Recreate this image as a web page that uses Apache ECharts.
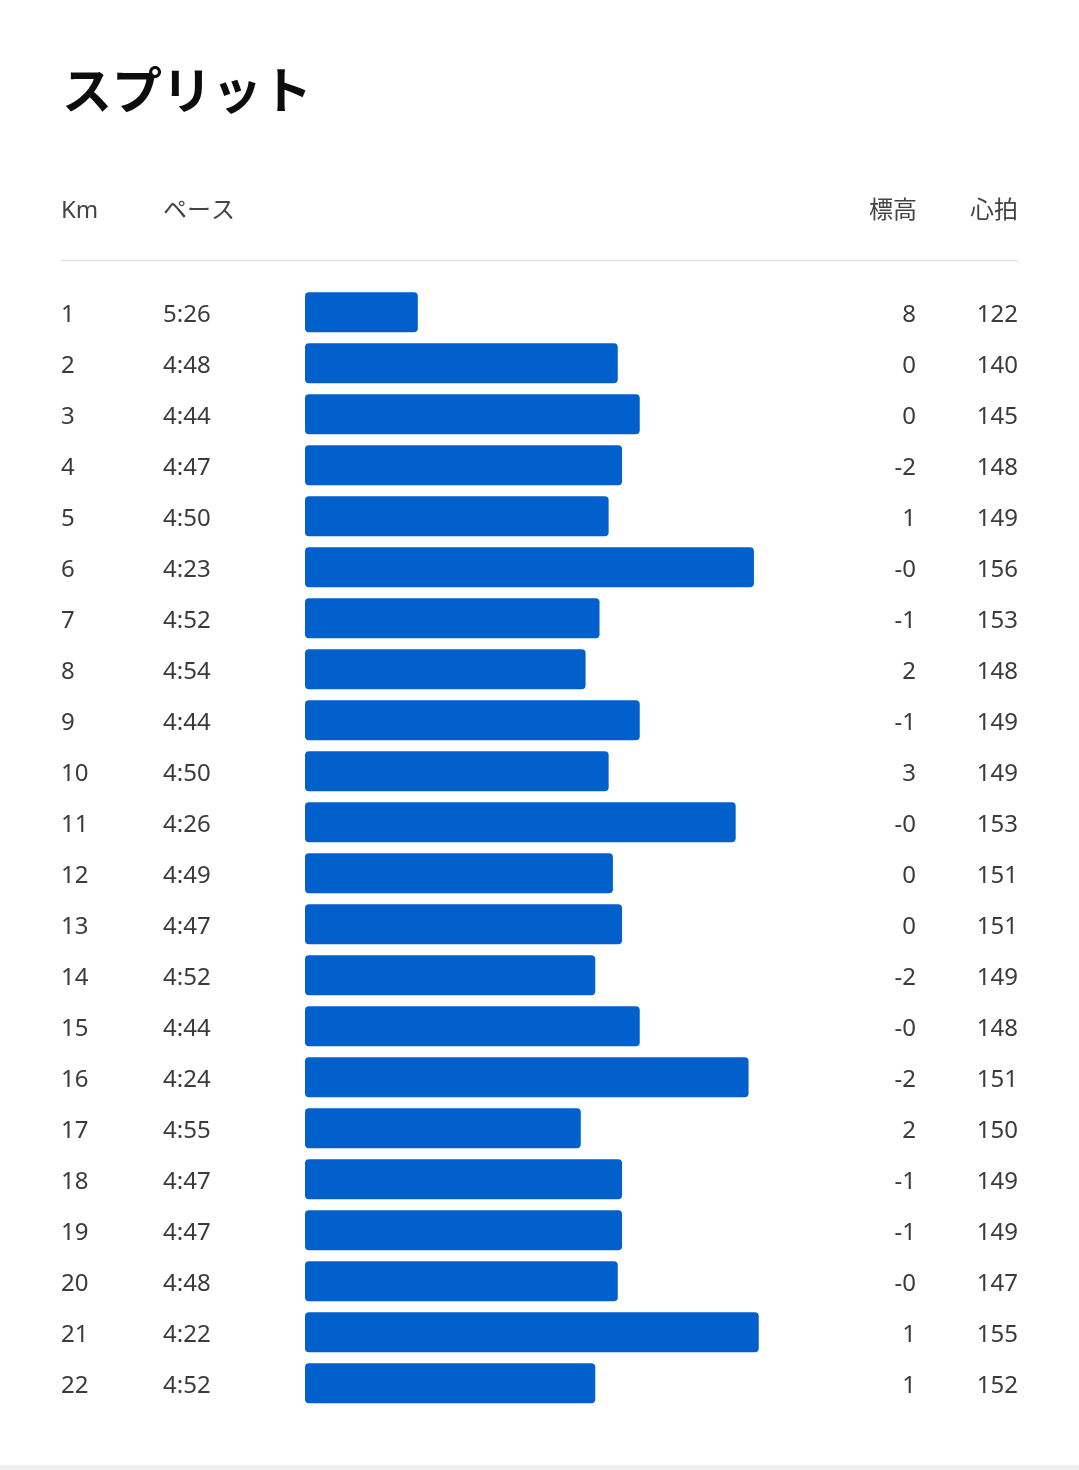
<!DOCTYPE html>
<html>
<head>
<meta charset="utf-8">
<script src="https://cdn.jsdelivr.net/npm/echarts@6/dist/echarts.min.js"></script>
<style>
html,body{margin:0;padding:0;background:#fff;}
#c{width:1079px;height:1470px;}
</style>
</head>
<body>
<div id="c"></div>
<script>
// ---- data ----
var kmLabels = ['1','2','3','4','5','6','7','8','9','10','11','12','13','14','15','16','17','18','19','20','21','22'];
var paceLabels = ['5:26','4:48','4:44','4:47','4:50','4:23','4:52','4:54','4:44','4:50','4:26','4:49','4:47','4:52','4:44','4:24','4:55','4:47','4:47','4:48','4:22','4:52'];
// pace in seconds per km (estimated with decimals from bar lengths)
var paceSec = [325.5,288.2,284.1,287.4,289.9,262.8,291.6,294.2,284.1,289.9,266.2,289.1,287.4,292.4,284.1,263.8,295.1,287.4,287.4,288.2,261.9,292.4];
var elevLabels = ['8','0','0','-2','1','-0','-1','2','-1','3','-0','0','0','-2','-0','-2','2','-1','-1','-0','1','1'];
var heartRate = [122,140,145,148,149,156,153,148,149,149,153,151,151,149,148,151,150,149,149,147,155,152];

// reference pace that maps to a zero-length bar (bar = how much faster than it)
var REF_PACE = 346.54;
var barValues = paceSec.map(function (p) { return REF_PACE - p; });

var FONT = '"Noto Sans", "Noto Sans CJK JP", sans-serif';
var TXT = '#3b3b3b';

var chart = echarts.init(document.getElementById('c'), null, {renderer: 'canvas'});
chart.setOption({
  animation: false,
  backgroundColor: '#ffffff',
  grid: {left: 305, right: 61, top: 286.8, bottom: 61.2, containLabel: false},
  xAxis: {
    type: 'value', min: 0, max: 133,
    show: false
  },
  yAxis: [
    {
      type: 'category', inverse: true, position: 'left',
      data: kmLabels,
      axisLine: {show: false}, axisTick: {show: false}, splitLine: {show: false},
      axisLabel: {
        interval: 0, margin: 244, align: 'left', padding: [6, 0, 0, 0],
        formatter: function (v, i) { return '{k|' + v + '}{p|' + paceLabels[i] + '}'; },
        rich: {
          k: {width: 102, align: 'left', fontSize: 24, color: TXT, fontFamily: FONT},
          p: {align: 'left', fontSize: 24, color: TXT, fontFamily: FONT}
        }
      }
    },
    {
      type: 'category', inverse: true, position: 'right',
      data: kmLabels,
      axisLine: {show: false}, axisTick: {show: false}, splitLine: {show: false},
      axisLabel: {
        interval: 0, margin: 0, align: 'right', padding: [6, 0, 0, 0],
        formatter: function (v, i) { return '{e|' + elevLabels[i] + '}{h|' + heartRate[i] + '}'; },
        rich: {
          e: {width: 60, align: 'right', fontSize: 24, color: TXT, fontFamily: FONT},
          h: {width: 102, align: 'right', fontSize: 24, color: TXT, fontFamily: FONT}
        }
      }
    }
  ],
  series: [{
    type: 'bar',
    data: barValues,
    barWidth: 40,
    itemStyle: {color: '#0160CB', borderRadius: 4},
    silent: true
  }],
  graphic: [
    {type: 'text', left: 62, top: 65, style: {text: 'スプリット', fontSize: 50, fontWeight: 'bold', fill: '#0d0d0d', fontFamily: '"Noto Sans CJK JP", sans-serif'}},
    {type: 'text', x: 61, y: 211, style: {text: 'Km', fontSize: 24, fill: '#444444', fontFamily: FONT, textVerticalAlign: 'middle'}},
    {type: 'text', x: 163, y: 211, style: {text: 'ペース', fontSize: 24, fill: '#444444', fontFamily: FONT, textVerticalAlign: 'middle'}},
    {type: 'text', x: 917, y: 211, style: {text: '標高', fontSize: 24, fill: '#444444', fontFamily: FONT, textAlign: 'right', textVerticalAlign: 'middle'}},
    {type: 'text', x: 1018, y: 211, style: {text: '心拍', fontSize: 24, fill: '#444444', fontFamily: FONT, textAlign: 'right', textVerticalAlign: 'middle'}},
    {type: 'line', shape: {x1: 61, y1: 260.5, x2: 1018, y2: 260.5}, style: {stroke: '#e2e2e2', lineWidth: 1.5}},
    {type: 'rect', shape: {x: 0, y: 1465, width: 1079, height: 5}, style: {fill: '#efefef'}}
  ]
});
</script>
</body>
</html>
